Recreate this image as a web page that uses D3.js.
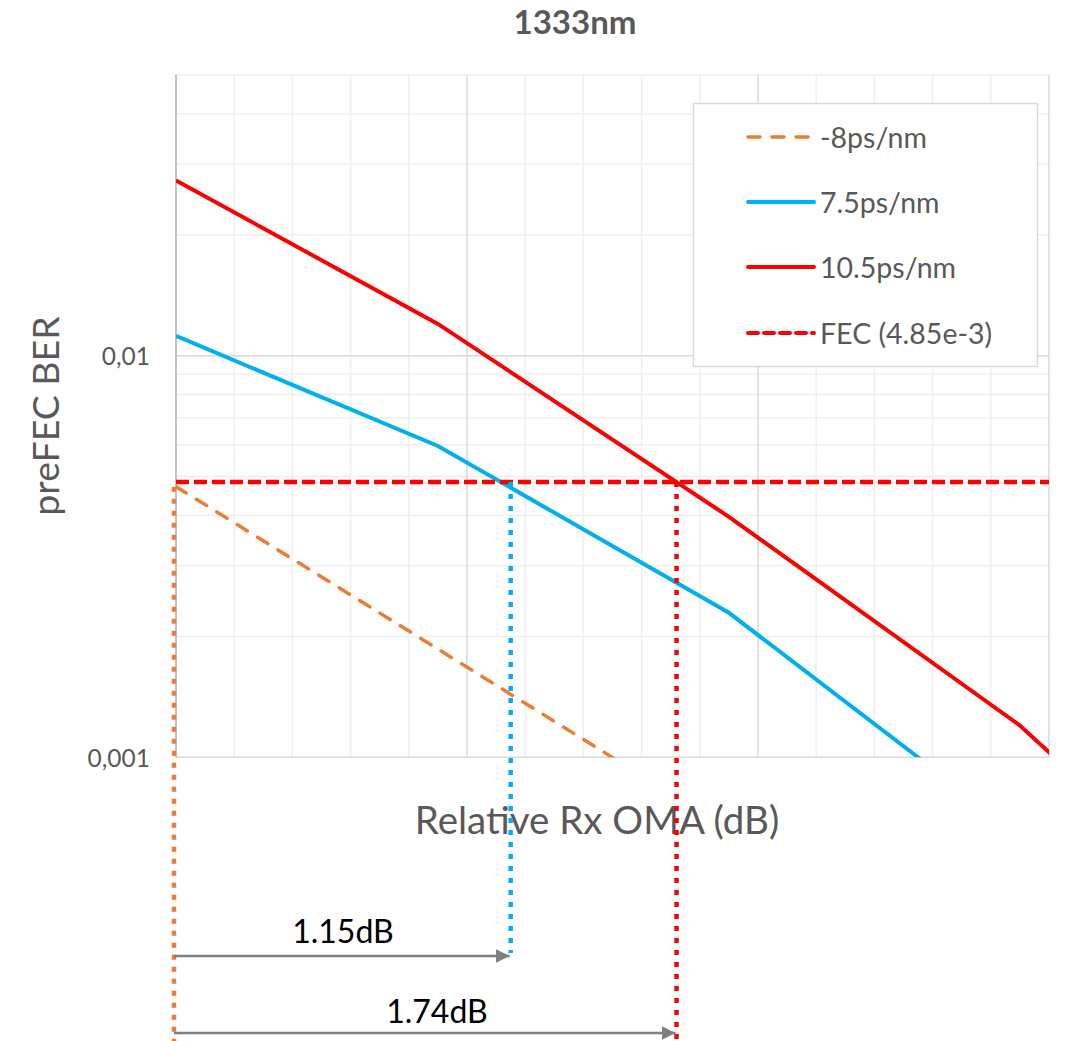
<!DOCTYPE html>
<html>
<head>
<meta charset="utf-8">
<script src="https://cdn.jsdelivr.net/npm/d3@7"></script>
<style>
  html, body { margin: 0; padding: 0; background: #fff; }
  text { font-family: Lato, "Open Sans", sans-serif; }
</style>
</head>
<body>
<div id="canvas"></div>
<script>
// Values (x in dB relative, y as pre-FEC BER)
const xDb = [0, 0.9, 1.9, 2.9, 3.9];
const berMinus8 = [4.72e-3, 1.86e-3, 6.6e-4];
const ber7p5 = [1.12e-2, 5.96e-3, 2.29e-3, 6.4e-4];
const ber10p5 = [2.73e-2, 1.20e-2, 3.97e-3, 1.20e-3, 2.6e-4];
const fecLimit = 4.85e-3;
const seriesNames = ["-8ps/nm", "7.5ps/nm", "10.5ps/nm", "FEC (4.85e-3)"];
const yTickValues = [0.01, 0.001];
const yTickLabels = ["0,01", "0,001"];
// penalty annotations: where each curve meets the FEC limit
const markerX = [0, 1.15, 1.72];
const penaltyLabels = ["1.15dB", "1.74dB"];

const width = 1066;
const height = 1041;
const margin = { top: 75, left: 176, right: 17, bottom: 283.7 };
const iwidth = width - margin.left - margin.right;
const iheight = height - margin.top - margin.bottom;

const svg = d3.select("#canvas").append("svg")
  .attr("width", width)
  .attr("height", height);

const x = d3.scaleLinear().domain([0, 3]).range([margin.left, margin.left + iwidth]);
const y = d3.scaleLog().domain([0.001, 0.05]).range([margin.top + iheight, margin.top]);

// grid
const grid = svg.append("g");
const xMinor = d3.range(0, 3.001, 0.2).filter(v => Math.abs(v - Math.round(v)) > 1e-6);
grid.selectAll(".xminor").data(xMinor).enter().append("line")
  .attr("x1", d => x(d)).attr("x2", d => x(d))
  .attr("y1", y(0.05)).attr("y2", y(0.001))
  .attr("stroke", "#efefef").attr("stroke-width", 1.5);
const yMinor = [];
[0.001, 0.01].forEach(dec => { for (let k = 2; k <= 9; k++) { const v = dec * k; if (v <= 0.05 + 1e-9) yMinor.push(v); } });
grid.selectAll(".yminor").data(yMinor).enter().append("line")
  .attr("x1", x(0)).attr("x2", x(3))
  .attr("y1", d => y(d)).attr("y2", d => y(d))
  .attr("stroke", "#efefef").attr("stroke-width", 1.5);
grid.selectAll(".xmajor").data([1, 2, 3]).enter().append("line")
  .attr("x1", d => x(d)).attr("x2", d => x(d))
  .attr("y1", y(0.05)).attr("y2", y(0.001))
  .attr("stroke", "#d9d9d9").attr("stroke-width", 1.5);
grid.selectAll(".ymajor").data(yTickValues).enter().append("line")
  .attr("x1", x(0)).attr("x2", x(3))
  .attr("y1", d => y(d)).attr("y2", d => y(d))
  .attr("stroke", "#d9d9d9").attr("stroke-width", 1.5);
grid.append("line")
  .attr("x1", x(0)).attr("x2", x(0))
  .attr("y1", y(0.05)).attr("y2", y(0.001))
  .attr("stroke", "#c4c4c4").attr("stroke-width", 2);

// y tick labels
svg.append("g").selectAll("text").data(yTickValues).enter().append("text")
  .attr("x", 150).attr("y", d => y(d))
  .attr("text-anchor", "end").attr("dominant-baseline", "central")
  .attr("font-size", 24.5).attr("fill", "#595959")
  .text((d, i) => yTickLabels[i]);

// titles
svg.append("text").attr("x", 575).attr("y", 34)
  .attr("text-anchor", "middle").attr("font-size", 33).attr("font-weight", "bold")
  .attr("fill", "#595959").text("1333nm");
svg.append("text").attr("x", 597).attr("y", 834)
  .attr("text-anchor", "middle").attr("font-size", 38.5).attr("fill", "#595959")
  .text("Relative Rx OMA (dB)");
svg.append("text").attr("transform", "translate(44,416) rotate(-90)")
  .attr("text-anchor", "middle").attr("dominant-baseline", "central")
  .attr("font-size", 37.5).attr("fill", "#595959").text("preFEC BER");

// curves, clipped to the plot area
svg.append("clipPath").attr("id", "plotclip").append("rect")
  .attr("x", x(0)).attr("y", y(0.05)).attr("width", iwidth).attr("height", iheight);
const plot = svg.append("g").attr("clip-path", "url(#plotclip)");
const line = d3.line().x(d => x(d[0])).y(d => y(d[1]));
const series = [
  { vals: berMinus8, color: "#ED7D31", w: 3.5, dash: "12,12", cap: "round" },
  { vals: ber7p5, color: "#00B0F0", w: 4, dash: null, cap: "butt" },
  { vals: ber10p5, color: "#FF0000", w: 4, dash: null, cap: "butt" }
];
series.forEach(s => {
  plot.append("path")
    .datum(s.vals.map((v, i) => [xDb[i], v]))
    .attr("d", line)
    .attr("fill", "none").attr("stroke", s.color).attr("stroke-width", s.w)
    .attr("stroke-dasharray", s.dash).attr("stroke-linecap", s.cap);
});
plot.append("line")
  .attr("x1", x(0)).attr("x2", x(3))
  .attr("y1", y(fecLimit)).attr("y2", y(fecLimit))
  .attr("stroke", "#FF0000").attr("stroke-width", 4.5)
  .attr("stroke-dasharray", "13,5");

// vertical dotted markers
const markers = [
  { xv: markerX[0], top: y(berMinus8[0]), bottom: height, color: "#ED7D31", dx: -2 },
  { xv: markerX[1], top: y(fecLimit), bottom: 953, color: "#00B0F0", dx: 0 },
  { xv: markerX[2], top: y(fecLimit), bottom: height, color: "#FF0000", dx: 0 }
];
svg.append("g").selectAll("line").data(markers).enter().append("line")
  .attr("x1", d => x(d.xv) + d.dx).attr("x2", d => x(d.xv) + d.dx)
  .attr("y1", d => d.top).attr("y2", d => d.bottom)
  .attr("stroke", d => d.color).attr("stroke-width", 4.5)
  .attr("stroke-dasharray", "5,7");

// arrows
svg.append("defs").append("marker")
  .attr("id", "arrow").attr("viewBox", "0 0 10 10")
  .attr("refX", 10).attr("refY", 5)
  .attr("markerWidth", 14).attr("markerHeight", 14)
  .attr("markerUnits", "userSpaceOnUse").attr("orient", "auto")
  .append("path").attr("d", "M0,0 L10,5 L0,10 Z").attr("fill", "#7f7f7f");
const arrows = [
  { to: markerX[1], yPos: 956, label: penaltyLabels[0], labelX: 343, labelY: 943 },
  { to: markerX[2], yPos: 1033, label: penaltyLabels[1], labelX: 437, labelY: 1023 }
];
arrows.forEach(a => {
  svg.append("line")
    .attr("x1", x(0) - 2).attr("x2", x(a.to) - 1)
    .attr("y1", a.yPos).attr("y2", a.yPos)
    .attr("stroke", "#7f7f7f").attr("stroke-width", 2.5)
    .attr("marker-end", "url(#arrow)");
  svg.append("text").attr("x", a.labelX).attr("y", a.labelY)
    .attr("text-anchor", "middle").attr("font-size", 32).attr("fill", "#000")
    .text(a.label);
});

// legend
const legend = svg.append("g");
legend.append("rect")
  .attr("x", 693.5).attr("y", 103.5).attr("width", 344).attr("height", 263)
  .attr("fill", "#fff").attr("stroke", "#d9d9d9").attr("stroke-width", 1.5);
const legendStyles = [
  { color: "#ED7D31", w: 3.5, dash: "12,12", cap: "round" },
  { color: "#00B0F0", w: 4, dash: null, cap: "round" },
  { color: "#FF0000", w: 4, dash: null, cap: "round" },
  { color: "#FF0000", w: 4, dash: "10,6", cap: "round" }
];
const legendY = [137, 202, 267, 333];
seriesNames.forEach((name, i) => {
  const st = legendStyles[i];
  legend.append("line")
    .attr("x1", 748).attr("x2", 814)
    .attr("y1", legendY[i]).attr("y2", legendY[i])
    .attr("stroke", st.color).attr("stroke-width", st.w)
    .attr("stroke-dasharray", st.dash).attr("stroke-linecap", st.cap);
  legend.append("text")
    .attr("x", 820).attr("y", legendY[i])
    .attr("dominant-baseline", "central")
    .attr("font-size", 28.5).attr("fill", "#595959")
    .text(name);
});
</script>
</body>
</html>
